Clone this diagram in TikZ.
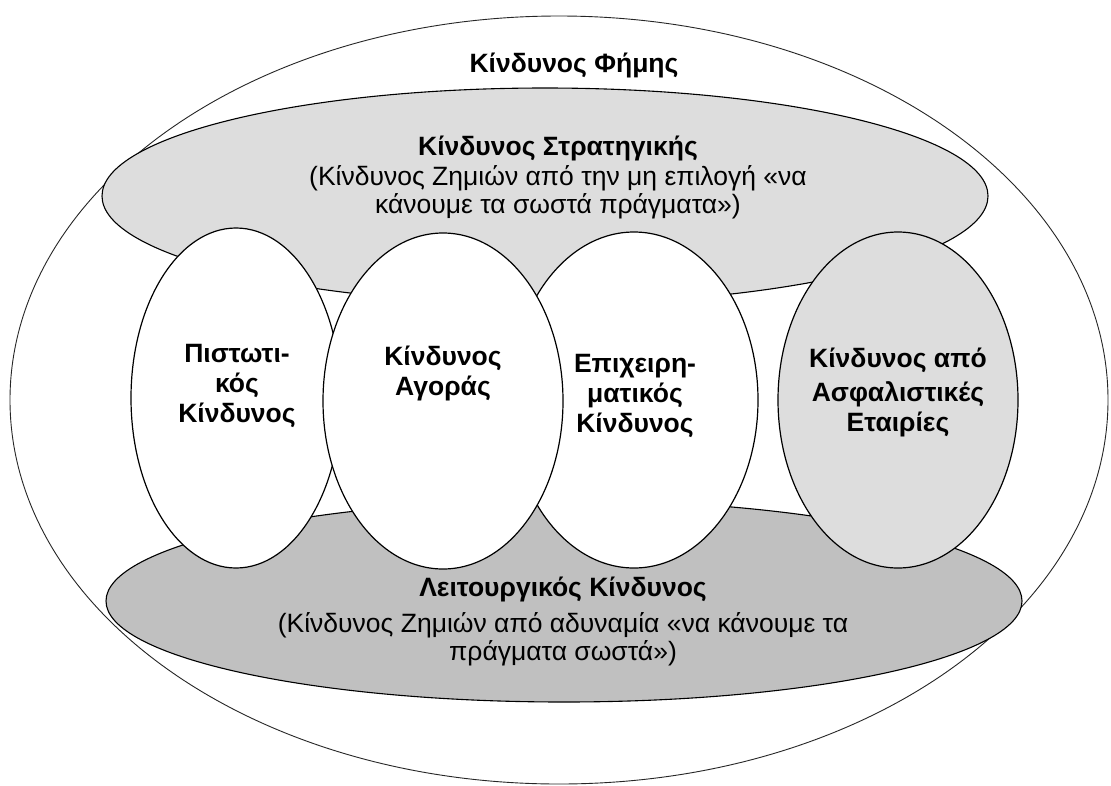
\documentclass[tikz,border=0pt]{standalone}
\usepackage{fontspec}
\setmainfont{Liberation Sans}
\usetikzlibrary{shapes.geometric}
\definecolor{lightfill}{HTML}{DDDDDD}
\definecolor{midfill}{HTML}{C0C0C0}
\tikzset{
  oval/.style={ellipse, inner sep=0pt, outer sep=0pt},
  ring/.style={oval, draw=black!85, line width=0.9pt, fill=white},
  band/.style={oval, draw=black, line width=1.1pt},
  blob/.style={oval, draw=black, line width=1.2pt, fill=white},
  ttl/.style={font=\fontsize{26.5}{30}\selectfont\bfseries, inner sep=0pt, anchor=base},
  txt/.style={font=\fontsize{26.5}{30}\selectfont, inner sep=0pt, anchor=base},
}
\begin{document}
\begin{tikzpicture}[x=1pt,y=-1pt]
\useasboundingbox (0,0) rectangle (1111,785);
\fill[white] (0,0) rectangle (1111,785);
% outer ellipse
\node[ring, minimum width=1098pt, minimum height=768pt] (fame) at (559,400) {};
% strategy and operational bands
\node[band, fill=lightfill, minimum width=886pt, minimum height=216pt] (strat) at (545,196) {};
\node[band, fill=midfill, minimum width=916pt, minimum height=202pt] (oper) at (564,601) {};
% small ellipses
\node[blob, minimum width=210pt, minimum height=340pt] (credit) at (236,398) {};
\node[blob, minimum width=248pt, minimum height=336pt] (business) at (634,400) {};
\node[blob, minimum width=240pt, minimum height=336pt] (market) at (443,401) {};
\node[blob, fill=lightfill, minimum width=240pt, minimum height=336pt] (insur) at (898,400) {};
% reputation
\node[ttl] (tfame) at (574,72) {Κίνδυνος Φήμης};
% strategy
\node[ttl] (tstratA) at (558,155) {Κίνδυνος Στρατηγικής};
\node[txt] (tstratB) at (558,185) {(Κίνδυνος Ζημιών από την μη επιλογή «να};
\node[txt] (tstratC) at (558,213) {κάνουμε τα σωστά πράγματα»)};
% credit
\node[ttl] (tcreditA) at (237,362) {Πιστωτι-};
\node[ttl] (tcreditB) at (237,392) {κός};
\node[ttl] (tcreditC) at (237,422) {Κίνδυνος};
% market
\node[ttl] (tmarketA) at (443,365) {Κίνδυνος};
\node[ttl] (tmarketB) at (443,395) {Αγοράς};
% business
\node[ttl] (tbusinessA) at (635,372) {Επιχειρη-};
\node[ttl] (tbusinessB) at (635,402) {ματικός};
\node[ttl] (tbusinessC) at (635,432) {Κίνδυνος};
% insurance
\node[ttl] (tinsurA) at (898,367) {Κίνδυνος από};
\node[ttl] (tinsurB) at (898,401) {Ασφαλιστικές};
\node[ttl] (tinsurC) at (898,431) {Εταιρίες};
% operational
\node[ttl] (toperA) at (563,596) {Λειτουργικός Κίνδυνος};
\node[txt] (toperB) at (563,632) {(Κίνδυνος Ζημιών από αδυναμία «να κάνουμε τα};
\node[txt] (toperC) at (563,660) {πράγματα σωστά»)};
\end{tikzpicture}
\end{document}
